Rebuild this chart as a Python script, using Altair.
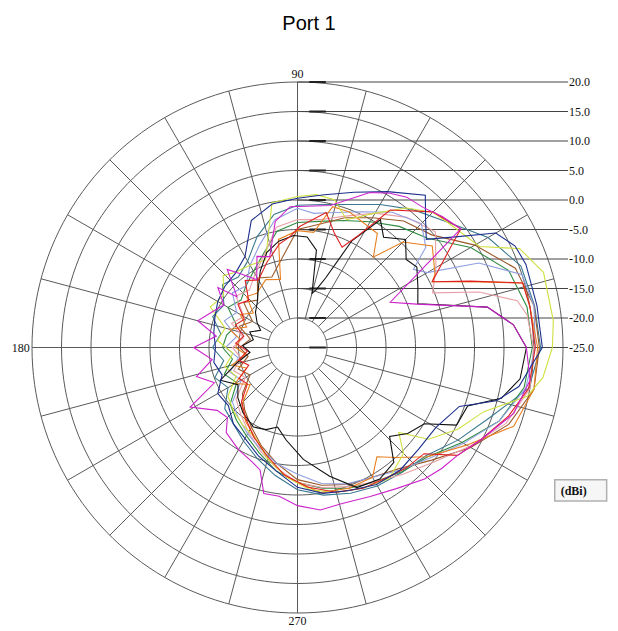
import altair as alt
import numpy as np
import pandas as pd

# ---------------- data ----------------
title_text = "Port 1"
ring_db = [20, 15, 10, 5, 0, -5, -10, -15, -20]
label_db = [20, 15, 10, 5, 0, -5, -10, -15, -20, -25]
label_text = ["20.0", "15.0", "10.0", "5.0", "0.0", "-5.0", "-10.0", "-15.0", "-20.0", "-25.0"]
spoke_angles = list(range(0, 360, 15))
angle_label_text = ["90", "180", "270"]
unit_text = "(dBi)"

navy_ang = [0,10,20,25,30,35,40,45,50,60,70,80,90,100,110,120,130,140,150,160,170,180,190,200,210,220,230,240,250,260,270,280,290,300,310,320,330,340,345,350]
navy_db = [16.5,16.2,16.2,15.7,13.8,7.7,3.5,5.7,8.7,5.5,3.0,1.3,0.3,-0.3,-2.1,-7.2,-8.6,-8.9,-9.4,-10.1,-10.6,-11.1,-10.6,-11.4,-9.4,-9.7,-8.1,-7.2,-5.5,-3.8,-1.3,0.1,0.8,1.8,2.1,1.8,2.1,4.2,9.9,13.1]

yellow_ang = [0,6,17,24,29,35,40,45,52,60,69,76,83,90,100,105,110,120,130,136,145,155,165,175,185,195,205,215,225,235,245,255,265,275,285,295,305,315,320,325,333,341,348,353]
yellow_db = [18.2,18.6,18.6,16.2,10.3,8.9,8.1,7.4,5.0,1.3,-1.8,0.8,1.1,0.6,-0.1,-5.7,-9.2,-8.9,-8.4,-7.5,-9.7,-8.7,-12.3,-11.4,-14.0,-12.3,-13.5,-10.6,-9.7,-8.9,-8.1,-5.5,-3.0,-0.8,0.4,1.3,2.1,0.4,-2.6,2.1,5.5,8.4,14.8,16.9]

magenta_ang = [0,6,12,20,26,36,42,48,54,59,65,77,93,100,107,114,121,128,132,140,143,150,157,165,172,180,188,196,203,209,218,225,230,240,248,253,257,263,270,278,286,296,305,314,320,326,333,343,352]
magenta_db = [13.8,11.8,7.9,-3.5,-7.5,9.2,8.1,6.9,6.5,5.5,4.0,-0.3,-1.1,-3.3,-8.9,-8.1,-11.6,-9.1,-7.2,-11.6,-8.1,-10.6,-9.4,-7.5,-11.1,-7.4,-10.4,-7.2,-9.7,-4.2,-7.7,-8.2,-6.2,-5.0,-4.2,-3.3,0.4,0.4,1.8,2.8,2.5,3.1,4.2,6.0,6.9,7.7,9.7,13.3,14.8]

orange_ang = [0,10,16,20,26,28,37,45,50,55,69,76,82,90,100,104,115,127,135,142,150,158,165,172,180,188,195,202,210,218,226,235,245,255,265,279,290,300,306,312,320,330,340,350]
orange_db = [15.7,15.0,14.7,7.5,0.4,1.4,3.6,0.3,-5.0,-1.4,-0.4,-0.4,-5.3,-5.2,-6.4,-13.1,-12.3,-13.5,-12.8,-15.5,-13.8,-15.7,-13.1,-15.2,-14.5,-16.2,-13.5,-15.7,-12.8,-14.8,-11.4,-9.7,-8.1,-5.5,-3.0,-0.1,0.4,0.4,-2.1,0.1,3.8,8.1,14.0,15.7]

red_ang = [0,10,16,21,26,33,36,45,56,62,66,72,78,89,94,100,110,120,128,136,144,152,160,168,176,184,192,200,208,216,224,234,244,254,264,274,285,295,305,312,320,326,333,342,350]
red_db = [15.3,15.0,14.7,6.4,0.4,5.8,9.2,7.5,3.1,-3.8,-6.4,-4.7,-1.6,-4.5,-6.2,-7.2,-9.7,-11.8,-10.6,-13.5,-12.5,-14.8,-13.8,-15.7,-14.5,-16.5,-14.8,-16.2,-13.8,-14.5,-11.8,-10.1,-8.1,-6.0,-3.3,-1.3,0.4,1.3,1.8,2.5,3.0,7.7,9.7,12.6,14.8]

black_ang = [0,6,12,16,20,27,34,39,45,52,57,63,68,72,75,79,85,92,100,108,116,124,132,140,148,155,162,170,178,186,194,203,212,220,230,241,249,256,263,273,284,293,302,310,316,322,329,334,341,346,352]
black_db = [13.8,11.8,7.9,1.1,-3.3,-2.1,-0.6,-1.3,0.9,-1.3,0.8,-4.7,-12.3,-14.7,-15.5,-8.2,-6.2,-6.0,-6.7,-8.1,-10.6,-13.1,-14.8,-15.7,-16.9,-18.1,-16.5,-17.4,-15.7,-16.9,-14.5,-10.8,-13.1,-11.8,-10.6,-9.6,-10.1,-11.1,-9.2,-6.0,-2.5,0.8,1.3,0.4,-3.3,-1.3,0.1,5.0,5.5,10.6,13.1]

lav_ang = [0,10,18,25,30,34,38,45,55,65,75,83,90,100,110,120,130,140,150,160,170,180,190,200,210,220,230,240,250,260,270,280,290,300,310,320,330,340,350]
lav_db = [15.3,15.7,15.0,8.9,0.4,-1.3,2.6,4.7,3.0,0.4,-1.3,-2.1,-1.4,-3.0,-6.4,-8.9,-11.4,-10.6,-13.1,-11.8,-14.5,-12.8,-14.8,-12.8,-14.0,-10.6,-9.4,-8.1,-6.7,-5.0,-3.5,-1.6,-0.4,0.4,2.1,4.2,7.5,11.4,14.3]

pink_ang = [0,8,12,17,22,30,40,50,60,70,80,90,100,110,120,130,140,150,160,170,180,190,200,210,220,230,240,250,260,270,280,290,300,310,320,330,340,350]
pink_db = [15.0,14.3,13.1,7.2,-0.3,2.1,5.5,3.8,1.3,-1.3,-3.0,-3.3,-4.3,-8.4,-10.6,-12.3,-11.4,-14.5,-13.1,-15.7,-14.0,-15.2,-13.5,-14.8,-11.4,-10.1,-8.4,-6.4,-4.3,-2.1,-0.9,0.1,1.3,3.0,5.2,8.6,12.6,15.0]

step_ang = [0,10,20,30,40,50,60,70,80,90,100,110,120,130,140,150,160,170,180,190,200,210,220,230,240,250,260,270,280,290,300,310,320,330,340,350]
brown_db = [16.0,15.7,14.3,9.7,4.7,3.0,0.4,-1.6,-3.8,-5.0,-9.7,-12.3,-11.4,-14.5,-13.1,-16.2,-14.5,-16.9,-15.2,-16.5,-14.3,-15.7,-12.8,-11.1,-9.4,-7.2,-5.0,-2.6,-1.3,-0.3,0.4,1.8,4.7,8.9,13.1,15.7]
green_db = [14.8,14.5,13.1,8.9,3.8,1.8,-0.4,-2.1,-3.3,-3.8,-5.0,-8.1,-10.1,-11.4,-12.5,-11.4,-14.0,-12.8,-12.3,-13.8,-11.8,-13.1,-10.1,-8.9,-7.7,-6.0,-3.8,-2.1,-0.8,0.4,1.3,2.5,3.8,7.2,11.4,14.0]
teal_db = [16.2,15.8,15.3,12.3,8.1,5.5,3.0,0.8,-0.4,-0.9,-2.1,-5.0,-8.1,-9.4,-8.4,-10.6,-9.7,-11.8,-10.6,-12.3,-10.1,-11.4,-8.9,-8.1,-6.7,-5.0,-3.0,-0.9,0.4,1.3,2.1,2.6,3.5,6.4,9.7,14.8]

series = [
    ("teal", "#3a7890", step_ang, teal_db),
    ("green", "#2e8b40", step_ang, green_db),
    ("brown", "#9a5a2a", step_ang, brown_db),
    ("pink", "#e8a0a8", pink_ang, pink_db),
    ("lavender", "#8f9fe0", lav_ang, lav_db),
    ("orange", "#e88020", orange_ang, orange_db),
    ("yellow", "#cfe040", yellow_ang, yellow_db),
    ("black", "#101010", black_ang, black_db),
    ("red", "#e02020", red_ang, red_db),
    ("navy", "#1c2f8c", navy_ang, navy_db),
    ("magenta", "#cc22cc", magenta_ang, magenta_db),
]

# ---------------- layout constants ----------------
DB0 = -25          # dB value at the centre
UNIT = 5.9         # pixels per dB
W, H, TOP = 602, 583, 40
CX, CY = 297.5, 347.5   # centre in page pixels
XMIN = -(CX - 8) / UNIT
XMAX = XMIN + W / UNIT
YMAX = (CY - 8 - TOP) / UNIT
YMIN = YMAX - H / UNIT
LEAD_END = 45.85

xs = alt.Scale(domain=[XMIN, XMAX], nice=False, zero=False)
ys = alt.Scale(domain=[YMIN, YMAX], nice=False, zero=False)
X = lambda f="px": alt.X(f"{f}:Q", scale=xs, axis=None)
Y = lambda f="py": alt.Y(f"{f}:Q", scale=ys, axis=None)
GRID = "#5a5a5a"

# rings
ring_rows = [{"level": lv, "ang": a} for lv in ring_db for a in range(0, 362, 2)]
rings = alt.Chart(pd.DataFrame(ring_rows)).transform_calculate(
    px=f"(datum.level-({DB0}))*cos(datum.ang*PI/180)",
    py=f"(datum.level-({DB0}))*sin(datum.ang*PI/180)",
).mark_line(stroke=GRID, strokeWidth=1).encode(
    x=X(), y=Y(), detail="level:N", order="ang:Q")

# spokes
spk = pd.DataFrame({"ang": spoke_angles, "r0": ring_db[-1], "r1": ring_db[0]})
spokes = alt.Chart(spk).transform_calculate(
    px=f"(datum.r0-({DB0}))*cos(datum.ang*PI/180)",
    py=f"(datum.r0-({DB0}))*sin(datum.ang*PI/180)",
    px2=f"(datum.r1-({DB0}))*cos(datum.ang*PI/180)",
    py2=f"(datum.r1-({DB0}))*sin(datum.ang*PI/180)",
).mark_rule(stroke=GRID, strokeWidth=1).encode(
    x=X(), y=Y(), x2="px2:Q", y2="py2:Q")

# main axes through centre
ax = pd.DataFrame({"ang": [0, 90], "r": [ring_db[0], ring_db[0]]})
axes = alt.Chart(ax).transform_calculate(
    px=f"(datum.r-({DB0}))*cos(datum.ang*PI/180)",
    py=f"(datum.r-({DB0}))*sin(datum.ang*PI/180)",
    px2=f"-(datum.r-({DB0}))*cos(datum.ang*PI/180)",
    py2=f"-(datum.r-({DB0}))*sin(datum.ang*PI/180)",
).mark_rule(stroke=GRID, strokeWidth=1).encode(
    x=X(), y=Y(), x2="px2:Q", y2="py2:Q")

# leader lines to the dB labels
lab = pd.DataFrame({"level": label_db, "text": label_text})
leaders = alt.Chart(lab).transform_calculate(
    px="0", px2=str(LEAD_END), py=f"datum.level-({DB0})"
).mark_rule(stroke="#444444", strokeWidth=1).encode(x=X(), x2="px2:Q", y=Y())
ticks = alt.Chart(lab).transform_calculate(
    px="2.0", px2="4.8", py=f"datum.level-({DB0})"
).mark_rule(stroke="#222222", strokeWidth=2).encode(x=X(), x2="px2:Q", y=Y())
labels = alt.Chart(lab).transform_calculate(
    px=str(LEAD_END), py=f"datum.level-({DB0})"
).mark_text(align="left", baseline="middle", font="Liberation Serif",
            fontSize=12, dx=1, color="#111111").encode(x=X(), y=Y(), text="text:N")

# angle labels
al = pd.DataFrame({"text": angle_label_text, "ang": [90, 180, 270]})
lab90 = alt.Chart(al[al.ang == 90]).transform_calculate(px="0", py="45.7").mark_text(
    align="center", baseline="alphabetic", font="Liberation Serif", fontSize=12, color="#111111"
).encode(x=X(), y=Y(), text="text:N")
lab180 = alt.Chart(al[al.ang == 180]).transform_calculate(px="-45.4", py="0").mark_text(
    align="right", baseline="middle", font="Liberation Serif", fontSize=12, color="#111111"
).encode(x=X(), y=Y(), text="text:N")
lab270 = alt.Chart(al[al.ang == 270]).transform_calculate(px="0", py="-45.5").mark_text(
    align="center", baseline="top", font="Liberation Serif", fontSize=12, color="#111111"
).encode(x=X(), y=Y(), text="text:N")

# unit box
ub = pd.DataFrame({"text": [unit_text]})
ubox = alt.Chart(ub).transform_calculate(px="43.6", px2="52.4", py="-22.4", py2="-26.0").mark_rect(
    fill="#f6f6f6", stroke="#b0b0b0", strokeWidth=1.5
).encode(x=X(), x2="px2:Q", y=Y(), y2="py2:Q")
utext = alt.Chart(ub).transform_calculate(px="44.6", py="-24.3").mark_text(
    align="left", baseline="middle", font="Liberation Serif", fontSize=12, fontWeight="bold", color="#111111"
).encode(x=X(), y=Y(), text="text:N")

# pattern curves
rows = []
for name, color, angs, dbs in series:
    pts = list(zip(angs, dbs)) + [(360, dbs[0])]
    for i, (a, d) in enumerate(pts):
        rows.append({"series": name, "i": i, "ang": a, "db": d})
curves_df = pd.DataFrame(rows)
names = [s[0] for s in series]
colors = [s[1] for s in series]
curves = alt.Chart(curves_df).transform_calculate(
    px=f"(datum.db-({DB0}))*cos(datum.ang*PI/180)",
    py=f"(datum.db-({DB0}))*sin(datum.ang*PI/180)",
).mark_line(strokeWidth=1.1).encode(
    x=X(), y=Y(),
    color=alt.Color("series:N", scale=alt.Scale(domain=names, range=colors), legend=None),
    order="i:Q")

chart = alt.layer(
    rings, spokes, axes, leaders, ticks, curves, labels, lab90, lab180, lab270, ubox, utext
).properties(
    width=W, height=H, autosize="none",
    padding={"top": TOP, "left": 0, "right": 0, "bottom": 0},
    title=alt.TitleParams(text=title_text, fontSize=20, font="Liberation Sans",
                          fontWeight="normal", anchor="middle", offset=14, color="black"),
).configure(background="white").configure_view(stroke="transparent", strokeWidth=0)

chart.save("out.html", embed_options={"renderer": "svg", "actions": False})
